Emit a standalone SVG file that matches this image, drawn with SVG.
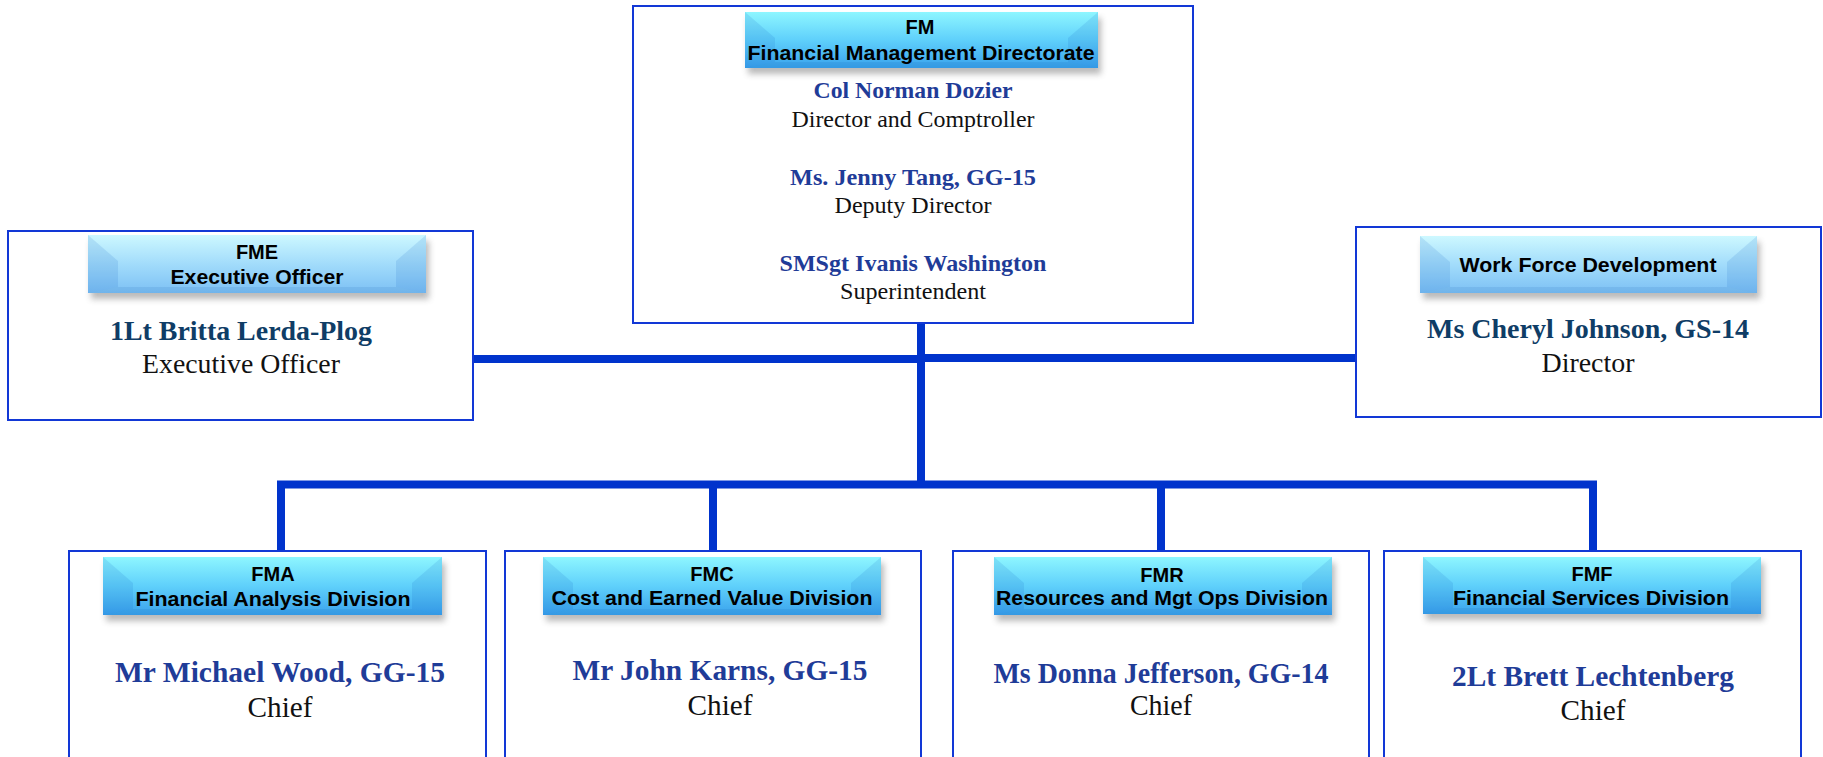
<svg xmlns="http://www.w3.org/2000/svg" width="1823" height="757" viewBox="0 0 1823 757">
<style>
.box{fill:#ffffff;stroke:#1238d6;stroke-width:2}
.bt{font-family:"Liberation Sans",Arial,sans-serif;font-weight:bold;font-size:20px;fill:#000;text-anchor:middle}
.nm{font-family:"Liberation Serif","Times New Roman",serif;font-weight:bold;fill:#1f3c98;text-anchor:middle}
.nm2{font-family:"Liberation Serif","Times New Roman",serif;font-weight:bold;fill:#0f3d66;text-anchor:middle}
.tt{font-family:"Liberation Serif","Times New Roman",serif;fill:#111;text-anchor:middle}
.conn{fill:none;stroke:#0033cc;stroke-width:8;stroke-linejoin:miter;stroke-linecap:butt}
.side{fill:#1060c0;opacity:0.13}
.bot{fill:#0a4aa0;opacity:0.10}
</style>
<defs>
<linearGradient id="gDark" x1="0" y1="0" x2="0" y2="1">
<stop offset="0" stop-color="#8ef6ff"/>
<stop offset="0.5" stop-color="#5fd0fb"/>
<stop offset="1" stop-color="#3aa2ec"/>
</linearGradient>
<linearGradient id="gLight" x1="0" y1="0" x2="0" y2="1">
<stop offset="0" stop-color="#cdf8ff"/>
<stop offset="0.5" stop-color="#a2dcfb"/>
<stop offset="1" stop-color="#7cc0f4"/>
</linearGradient>
<filter id="sh" x="-10%" y="-30%" width="120%" height="180%">
<feGaussianBlur stdDeviation="3"/>
</filter>
</defs>

<g id="connectors">
<path class="conn" d="M921,323 V488"/>
<path class="conn" d="M473,359 H921"/>
<path class="conn" d="M921,358 H1355"/>
<path class="conn" d="M281,551 V484.5 H1593 V551"/>
<path class="conn" d="M713,484.5 V551"/>
<path class="conn" d="M1161,484.5 V551"/>
</g>

<g id="node-fm">
<rect class="box" x="633" y="6" width="560" height="317"/>
<rect x="748" y="18" width="353" height="56" fill="#666" opacity="0.45" filter="url(#sh)"/>
<rect x="745" y="12" width="353" height="56" fill="url(#gDark)"/>
<polygon class="side" points="745,12 775,38 775,62 745,68"/>
<polygon class="side" points="1098,12 1068,38 1068,62 1098,68"/>
<polygon class="bot" points="745,68 775,62 1068,62 1098,68"/>
<text class="bt" x="920" y="34">FM</text>
<text class="bt" x="921" y="60" textLength="347" lengthAdjust="spacingAndGlyphs">Financial Management Directorate</text>
<text class="nm" x="913" y="98" font-size="24" textLength="199" lengthAdjust="spacingAndGlyphs">Col Norman Dozier</text>
<text class="tt" x="913" y="127" font-size="24" textLength="243" lengthAdjust="spacingAndGlyphs">Director and Comptroller</text>
<text class="nm" x="913" y="185" font-size="24" textLength="246" lengthAdjust="spacingAndGlyphs">Ms. Jenny Tang, GG-15</text>
<text class="tt" x="913" y="213" font-size="24" textLength="157" lengthAdjust="spacingAndGlyphs">Deputy Director</text>
<text class="nm" x="913" y="271" font-size="24" textLength="267" lengthAdjust="spacingAndGlyphs">SMSgt Ivanis Washington</text>
<text class="tt" x="913" y="299" font-size="24" textLength="146" lengthAdjust="spacingAndGlyphs">Superintendent</text>
</g>

<g id="node-fme">
<rect class="box" x="8" y="231" width="465" height="189"/>
<rect x="91" y="241" width="338" height="58" fill="#666" opacity="0.45" filter="url(#sh)"/>
<rect x="88" y="235" width="338" height="58" fill="url(#gLight)"/>
<polygon class="side" points="88,235 118,261 118,287 88,293"/>
<polygon class="side" points="426,235 396,261 396,287 426,293"/>
<polygon class="bot" points="88,293 118,287 396,287 426,293"/>
<text class="bt" x="257" y="259">FME</text>
<text class="bt" x="257" y="284" textLength="173" lengthAdjust="spacingAndGlyphs">Executive Officer</text>
<text class="nm2" x="241" y="340" font-size="28" textLength="262" lengthAdjust="spacingAndGlyphs">1Lt Britta Lerda-Plog</text>
<text class="tt" x="241" y="373" font-size="28" textLength="198" lengthAdjust="spacingAndGlyphs">Executive Officer</text>
</g>

<g id="node-wfd">
<rect class="box" x="1356" y="227" width="465" height="190"/>
<rect x="1423" y="242" width="337" height="57" fill="#666" opacity="0.45" filter="url(#sh)"/>
<rect x="1420" y="236" width="337" height="57" fill="url(#gLight)"/>
<polygon class="side" points="1420,236 1450,262 1450,287 1420,293"/>
<polygon class="side" points="1757,236 1727,262 1727,287 1757,293"/>
<polygon class="bot" points="1420,293 1450,287 1727,287 1757,293"/>
<text class="bt" x="1588" y="272" textLength="257" lengthAdjust="spacingAndGlyphs">Work Force Development</text>
<text class="nm2" x="1588" y="338" font-size="28" textLength="322" lengthAdjust="spacingAndGlyphs">Ms Cheryl Johnson, GS-14</text>
<text class="tt" x="1588" y="372" font-size="28" textLength="93" lengthAdjust="spacingAndGlyphs">Director</text>
</g>

<g id="node-fma">
<rect class="box" x="69" y="551" width="417" height="230"/>
<rect x="106" y="563" width="339" height="58" fill="#666" opacity="0.45" filter="url(#sh)"/>
<rect x="103" y="557" width="339" height="58" fill="url(#gDark)"/>
<polygon class="side" points="103,557 133,583 133,609 103,615"/>
<polygon class="side" points="442,557 412,583 412,609 442,615"/>
<polygon class="bot" points="103,615 133,609 412,609 442,615"/>
<text class="bt" x="273" y="581">FMA</text>
<text class="bt" x="273" y="606" textLength="275" lengthAdjust="spacingAndGlyphs">Financial Analysis Division</text>
<text class="nm" x="280" y="682" font-size="29" textLength="330" lengthAdjust="spacingAndGlyphs">Mr Michael Wood, GG-15</text>
<text class="tt" x="280" y="717" font-size="29" textLength="65" lengthAdjust="spacingAndGlyphs">Chief</text>
</g>

<g id="node-fmc">
<rect class="box" x="505" y="551" width="416" height="230"/>
<rect x="546" y="563" width="338" height="58" fill="#666" opacity="0.45" filter="url(#sh)"/>
<rect x="543" y="557" width="338" height="58" fill="url(#gDark)"/>
<polygon class="side" points="543,557 573,583 573,609 543,615"/>
<polygon class="side" points="881,557 851,583 851,609 881,615"/>
<polygon class="bot" points="543,615 573,609 851,609 881,615"/>
<text class="bt" x="712" y="581">FMC</text>
<text class="bt" x="712" y="605" textLength="321" lengthAdjust="spacingAndGlyphs">Cost and Earned Value Division</text>
<text class="nm" x="720" y="680" font-size="29" textLength="295" lengthAdjust="spacingAndGlyphs">Mr John Karns, GG-15</text>
<text class="tt" x="720" y="715" font-size="29" textLength="65" lengthAdjust="spacingAndGlyphs">Chief</text>
</g>

<g id="node-fmr">
<rect class="box" x="953" y="551" width="416" height="230"/>
<rect x="997" y="563" width="338" height="58" fill="#666" opacity="0.45" filter="url(#sh)"/>
<rect x="994" y="557" width="338" height="58" fill="url(#gDark)"/>
<polygon class="side" points="994,557 1024,583 1024,609 994,615"/>
<polygon class="side" points="1332,557 1302,583 1302,609 1332,615"/>
<polygon class="bot" points="994,615 1024,609 1302,609 1332,615"/>
<text class="bt" x="1162" y="582">FMR</text>
<text class="bt" x="1162" y="605" textLength="332" lengthAdjust="spacingAndGlyphs">Resources and Mgt Ops Division</text>
<text class="nm" x="1161" y="683" font-size="29" textLength="335" lengthAdjust="spacingAndGlyphs">Ms Donna Jefferson, GG-14</text>
<text class="tt" x="1161" y="715" font-size="29" textLength="62" lengthAdjust="spacingAndGlyphs">Chief</text>
</g>

<g id="node-fmf">
<rect class="box" x="1384" y="551" width="417" height="230"/>
<rect x="1426" y="563" width="338" height="57" fill="#666" opacity="0.45" filter="url(#sh)"/>
<rect x="1423" y="557" width="338" height="57" fill="url(#gDark)"/>
<polygon class="side" points="1423,557 1453,583 1453,608 1423,614"/>
<polygon class="side" points="1761,557 1731,583 1731,608 1761,614"/>
<polygon class="bot" points="1423,614 1453,608 1731,608 1761,614"/>
<text class="bt" x="1592" y="581">FMF</text>
<text class="bt" x="1591" y="605" textLength="276" lengthAdjust="spacingAndGlyphs">Financial Services Division</text>
<text class="nm" x="1593" y="686" font-size="29" textLength="282" lengthAdjust="spacingAndGlyphs">2Lt Brett Lechtenberg</text>
<text class="tt" x="1593" y="720" font-size="29" textLength="65" lengthAdjust="spacingAndGlyphs">Chief</text>
</g>
</svg>
